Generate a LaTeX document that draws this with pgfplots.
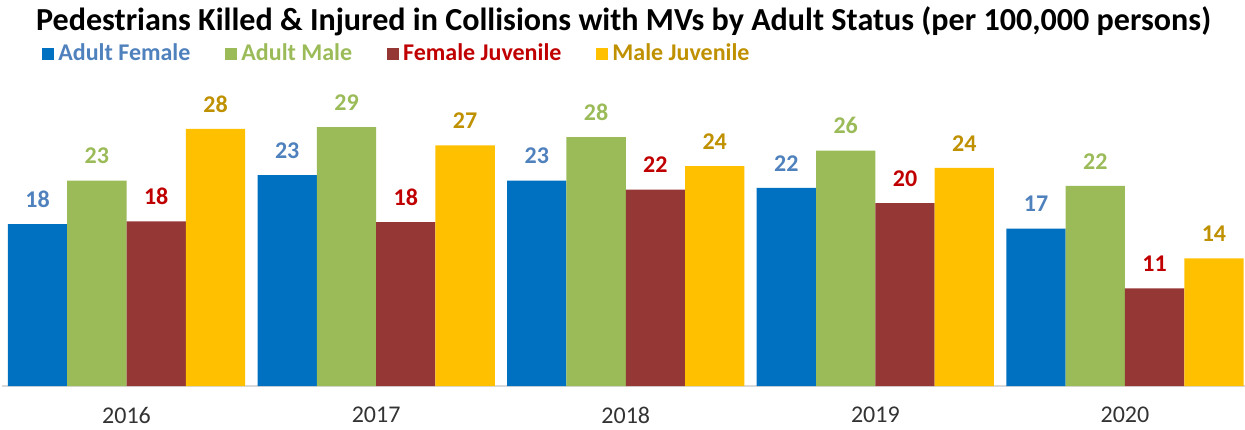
\documentclass[border=0pt]{standalone}
\usepackage{pgfplots}
\pgfplotsset{compat=1.18}
\usepackage{fontspec}
\setmainfont{Carlito}
\definecolor{cAF}{HTML}{0070C0}
\definecolor{cAM}{HTML}{9BBB59}
\definecolor{cFJ}{HTML}{953735}
\definecolor{cMJ}{HTML}{FFC000}
\definecolor{tAF}{HTML}{4F81BD}
\definecolor{tAM}{HTML}{9BBB59}
\definecolor{tFJ}{HTML}{C00000}
\definecolor{tMJ}{HTML}{BF9000}
\begin{document}
\begin{tikzpicture}
\path[use as bounding box] (-1pt,-21.5pt) rectangle (621.5pt,193pt);
\begin{axis}[
  scale only axis,
  width=621.5pt, height=135.75pt,
  xmin=-0.499, xmax=4.481,
  ymin=0, ymax=30,
  axis x line*=bottom,
  axis y line=none,
  x axis line style={draw=black!15, line width=0.6pt},
  xtick={0,1,2,3,4},
  xticklabels={2016,2017,2018,2019,2020},
  major tick length=0pt,
  xticklabel style={font=\fontsize{12}{14}\selectfont, text=black!80, yshift=-7pt},
  ytick=\empty,
  bar width=0.2376,
  ybar,
  /pgf/number format/assume math mode=true,
  nodes near coords={\pgfmathprintnumber[fixed,precision=0]{\pgfplotspointmeta}},
  nodes near coords style={font=\bfseries\fontsize{12}{14}\selectfont, anchor=south, yshift=4.8pt},
  title={\bfseries Pedestrians Killed \& Injured in Collisions with MVs by Adult Status (per 100,000 persons)},
  title style={font=\fontsize{16.05}{18}\selectfont, at={(0.5,1)}, anchor=base, yshift=36.25pt},
  legend columns=4,
  legend style={draw=none, fill=none, at={(0,1)}, anchor=west, xshift=20pt, yshift=30.5pt,
    font=\bfseries\fontsize{12}{14}\selectfont, inner sep=0pt,
    /tikz/every even column/.style={column sep=15.5pt}},
  legend cell align=left,
  legend image code/.code={\fill[#1] (-2pt,-3.4pt) rectangle (4pt,2.6pt);},
]
\addplot[fill=cAF, draw=none, bar shift=-0.3564, every node near coord/.append style={text=tAF}] coordinates {(0,17.9) (1,23.3) (2,22.7) (3,21.9) (4,17.4)};
\addplot[fill=cAM, draw=none, bar shift=-0.1188, every node near coord/.append style={text=tAM}] coordinates {(0,22.7) (1,28.6) (2,27.5) (3,26.0) (4,22.1)};
\addplot[fill=cFJ, draw=none, bar shift=0.1188, every node near coord/.append style={text=tFJ}] coordinates {(0,18.2) (1,18.1) (2,21.7) (3,20.2) (4,10.8)};
\addplot[fill=cMJ, draw=none, bar shift=0.3564, every node near coord/.append style={text=tMJ}] coordinates {(0,28.4) (1,26.6) (2,24.3) (3,24.1) (4,14.1)};
\legend{\textcolor{tAF}{Adult Female},\textcolor{tAM}{Adult Male},\textcolor{tFJ}{Female Juvenile},\textcolor{tMJ}{Male Juvenile}}
\end{axis}
\end{tikzpicture}
\end{document}
